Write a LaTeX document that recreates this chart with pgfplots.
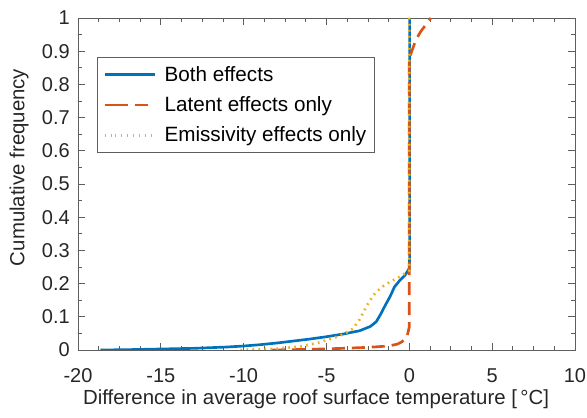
\documentclass[border=0pt]{standalone}
\usepackage{pgfplots}
\pgfplotsset{compat=1.18}
\usepackage{fontspec}
\setmainfont{Liberation Sans}
\definecolor{mblue}{rgb}{0,0.447,0.741}
\definecolor{morange}{rgb}{0.85,0.325,0.098}
\definecolor{myellow}{rgb}{0.929,0.694,0.125}
\definecolor{axgray}{rgb}{0.37,0.37,0.37}
\begin{document}
\begin{tikzpicture}[x=0.75pt,y=0.75pt]
\begin{axis}[
  at={(0,0)}, anchor=south west,
  scale only axis,
  width=372.75pt, height=249pt,
  xmin=-20, xmax=10, ymin=0, ymax=1,
  xtick={-20,-15,...,10},
  ytick={0,0.1,...,1.001},
  minor x tick num=3,
  minor y tick num=1,
  tick align=inside,
  major tick length=5.5pt,
  minor tick length=3.2pt,
  axis line style={axgray, line width=0.6pt},
  every tick/.style={axgray, line width=0.6pt},
  tick label style={font=\fontsize{15}{18}\selectfont, text=black!85, inner sep=0pt},
  xticklabel style={anchor=north, yshift=-13.5pt},
  yticklabel style={anchor=east, xshift=-6pt, /pgf/number format/fixed, /pgf/number format/precision=1},
  label style={font=\fontsize{15.3}{18}\selectfont, text=black!85, inner sep=0pt},
  /pgf/number format/assume math mode=true,
  xlabel={Difference in average roof surface temperature [\,°C]},
  ylabel={Cumulative frequency},
  xlabel style={at={(axis description cs:0.479,-0.118)}, anchor=north},
  ylabel style={at={(axis description cs:-0.0986,0.55)}, anchor=south},
  legend style={at={(0.0382,0.8825)}, anchor=north west, draw=axgray, line width=0.6pt,
    font=\fontsize{15.5}{18}\selectfont, inner xsep=4.4pt, inner ysep=4.5pt,
    /tikz/row sep=6pt,
    /tikz/every odd column/.append style={column sep=4.4pt}},
  legend cell align=left,
  legend image code/.code={\path (-7.6pt,0pt) -- (0pt,0pt); \draw[#1] (0pt,0pt) -- (30pt,0pt);},
]
\addplot[mblue, line width=2pt] coordinates {
(-18.65,0) (-17,0.001) (-15,0.003) (-13,0.005) (-12,0.007) (-11,0.009) (-10,0.012) (-9,0.016) (-8,0.021) (-7,0.027) (-6,0.033) (-5,0.04) (-4,0.048) (-3,0.058) (-2.35,0.071) (-2,0.085) (-1.75,0.106) (-1.45,0.135) (-1.15,0.162) (-0.9,0.19) (-0.6,0.208) (-0.25,0.226) (0,0.246) (0.02,0.28) (0.02,1)
};
\addlegendentry{Both effects}
\addplot[morange, line width=2pt, dash pattern=on 9.75pt off 5.25pt] coordinates {
(-8.3,0) (-6,0.002) (-4,0.005) (-2.5,0.008) (-1.25,0.012) (-0.7,0.018) (-0.44,0.025) (-0.15,0.038) (0,0.07) (0,0.88) (0.15,0.9) (0.4,0.935) (0.7,0.96) (1,0.98) (1.3,1)
};
\addlegendentry{Latent effects only}
\addplot[myellow, line width=2pt, dash pattern=on 1.3pt off 3.2pt] coordinates {
(-10.2,0) (-8,0.004) (-6.6,0.01) (-5.5,0.022) (-4.7,0.034) (-4,0.047) (-3.4,0.064) (-3,0.092) (-2.55,0.135) (-2.15,0.166) (-1.65,0.19) (-1.15,0.206) (-0.55,0.221) (0,0.24) (0,1)
};
\addlegendentry{Emissivity effects only}
\end{axis}
\pgfresetboundingbox
\path[use as bounding box] (-78,-68) rectangle (509,350);
\end{tikzpicture}
\end{document}
